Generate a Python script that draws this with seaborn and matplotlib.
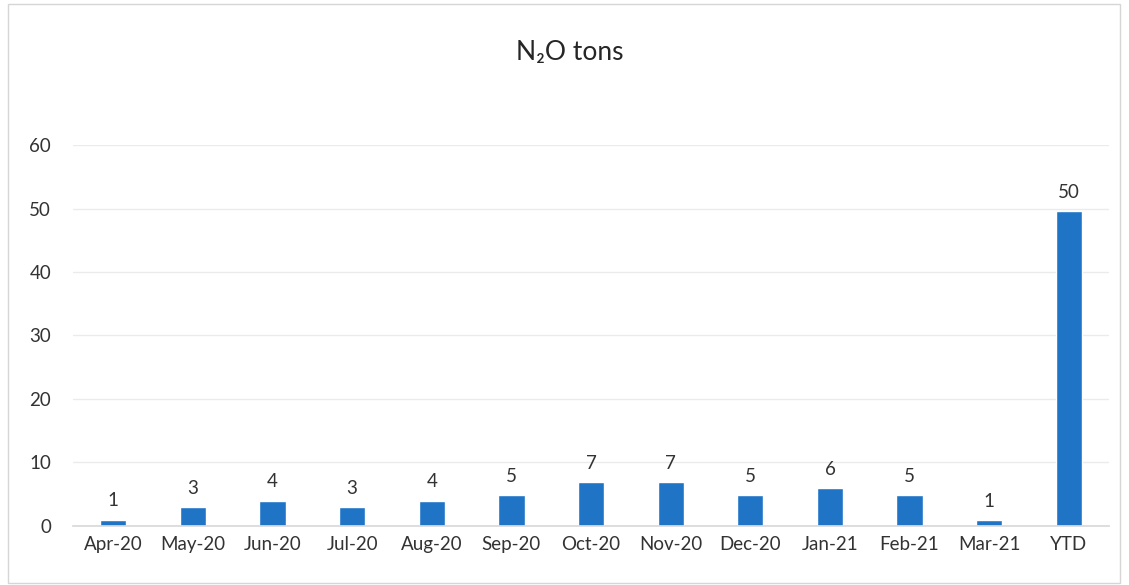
import pandas as pd
import numpy as np
import seaborn as sns
import matplotlib.pyplot as plt
from matplotlib.patches import Rectangle

# values
months = ["Apr-20", "May-20", "Jun-20", "Jul-20", "Aug-20", "Sep-20", "Oct-20",
          "Nov-20", "Dec-20", "Jan-21", "Feb-21", "Mar-21", "YTD"]
tons = [1.0, 3.0, 4.0, 3.0, 4.0, 4.9, 6.9, 6.9, 4.8, 5.9, 4.8, 0.9, 49.6]
y_ticks = [0, 10, 20, 30, 40, 50, 60]

df = pd.DataFrame({"month": months, "tons": tons})

sns.set_theme(style="white")
plt.rcParams["font.family"] = ["Lato", "DejaVu Sans"]

fig = plt.figure(figsize=(11.29, 5.85), dpi=100)
ax = fig.add_axes([0.065, 0.101, 0.917, 0.651])

sns.barplot(data=df, x="month", y="tons", color="#1F74C6", saturation=1,
            width=0.33, ax=ax)

ax.set_ylim(0, 60)
ax.set_xlim(-0.5, len(months) - 0.5)
ax.set_yticks(y_ticks)
ax.yaxis.grid(True, color="#ebebeb", linewidth=1)
ax.set_axisbelow(True)
for s in ["top", "right", "left"]:
    ax.spines[s].set_visible(False)
ax.spines["bottom"].set_color("#d9d9d9")
ax.set_xlabel("")
ax.set_ylabel("")
ax.tick_params(axis="both", labelsize=13.5, colors="#333333", length=0, pad=7)
ax.tick_params(axis="y", pad=16)

for i, v in enumerate(tons):
    ax.text(i, v + 1.6, f"{v:.0f}", ha="center", va="bottom",
            fontsize=13.5, color="#333333")

fig.text(0.505, 0.911, "N\u2082O tons", ha="center", va="center",
         fontsize=19, color="#262626")

# light frame of the chart area
fig.patches.append(Rectangle((0.007, 0.003), 0.985, 0.99, transform=fig.transFigure,
                             fill=False, edgecolor="#d6d6d6", linewidth=1))

plt.savefig("out.png", dpi=100)
